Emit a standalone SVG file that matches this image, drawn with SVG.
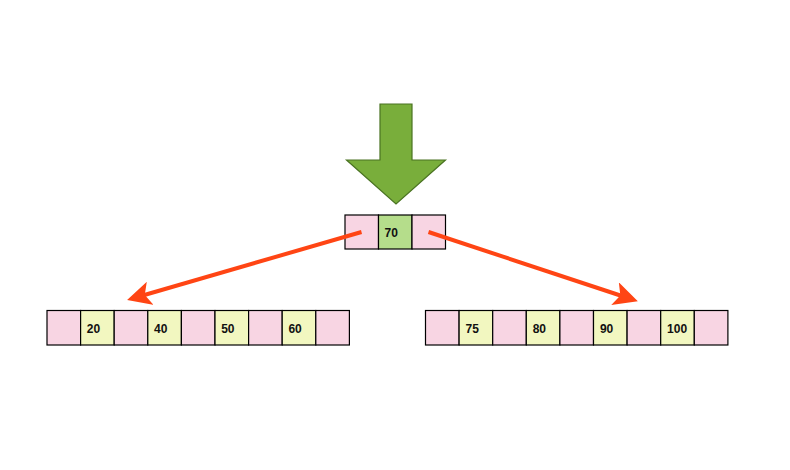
<svg xmlns="http://www.w3.org/2000/svg" width="790" height="470" viewBox="0 0 790 470">
<style>
.p{fill:#f8d5e3;stroke:#000;stroke-width:1.2}
.y{fill:#f2f7c0;stroke:#000;stroke-width:1.2}
.g{fill:#b5dd8b;stroke:#000;stroke-width:1.2}
.t{font-family:"Liberation Sans",Arial,sans-serif;font-weight:bold;font-size:12px;fill:#111}
.c{stroke:#ff4514;stroke-width:4;fill:none}
</style>
<defs>
<marker id="ah" markerWidth="6" markerHeight="6" refX="4.2" refY="3" orient="auto" markerUnits="strokeWidth" viewBox="0 0 6 6">
<path d="M0,0 L6,3 L0,6 L1.4,3 Z" fill="#ff4514"/>
</marker>
</defs>
<rect width="790" height="470" fill="#fff"/>
<g id="insert-arrow">
<path d="M380,104 L412,104 L412,160 L445.5,160 L396,204 L346.5,160 L380,160 Z" fill="#79ae3b" stroke="#4a7322" stroke-width="1.2"/>
</g>
<g id="root">
<rect class="p" x="345" y="215" width="33.5" height="34"/>
<rect class="g" x="378.5" y="215" width="33.5" height="34"/>
<rect class="p" x="412" y="215" width="33.5" height="34"/>
<text class="t" x="384.5" y="236.5">70</text>
</g>
<g id="left">
<rect class="p" x="47" y="310.5" width="33.6" height="34.5"/>
<rect class="y" x="80.6" y="310.5" width="33.6" height="34.5"/>
<rect class="p" x="114.2" y="310.5" width="33.6" height="34.5"/>
<rect class="y" x="147.8" y="310.5" width="33.6" height="34.5"/>
<rect class="p" x="181.4" y="310.5" width="33.6" height="34.5"/>
<rect class="y" x="215" y="310.5" width="33.6" height="34.5"/>
<rect class="p" x="248.6" y="310.5" width="33.6" height="34.5"/>
<rect class="y" x="282.2" y="310.5" width="33.6" height="34.5"/>
<rect class="p" x="315.8" y="310.5" width="33.6" height="34.5"/>
<text class="t" x="86.8" y="332.5">20</text>
<text class="t" x="154" y="332.5">40</text>
<text class="t" x="221.2" y="332.5">50</text>
<text class="t" x="288.4" y="332.5">60</text>
</g>
<g id="right">
<rect class="p" x="425.5" y="310.5" width="33.6" height="34.5"/>
<rect class="y" x="459.1" y="310.5" width="33.6" height="34.5"/>
<rect class="p" x="492.7" y="310.5" width="33.6" height="34.5"/>
<rect class="y" x="526.3" y="310.5" width="33.6" height="34.5"/>
<rect class="p" x="559.9" y="310.5" width="33.6" height="34.5"/>
<rect class="y" x="593.5" y="310.5" width="33.6" height="34.5"/>
<rect class="p" x="627.1" y="310.5" width="33.6" height="34.5"/>
<rect class="y" x="660.7" y="310.5" width="33.6" height="34.5"/>
<rect class="p" x="694.3" y="310.5" width="33.6" height="34.5"/>
<text class="t" x="465.5" y="332.5">75</text>
<text class="t" x="532.7" y="332.5">80</text>
<text class="t" x="599.9" y="332.5">90</text>
<text class="t" x="667.1" y="332.5">100</text>
</g>
<g id="connectors">
<line class="c" x1="361.5" y1="232" x2="134" y2="298" marker-end="url(#ah)"/>
<line class="c" x1="428.5" y1="232" x2="631" y2="299" marker-end="url(#ah)"/>
</g>
</svg>
